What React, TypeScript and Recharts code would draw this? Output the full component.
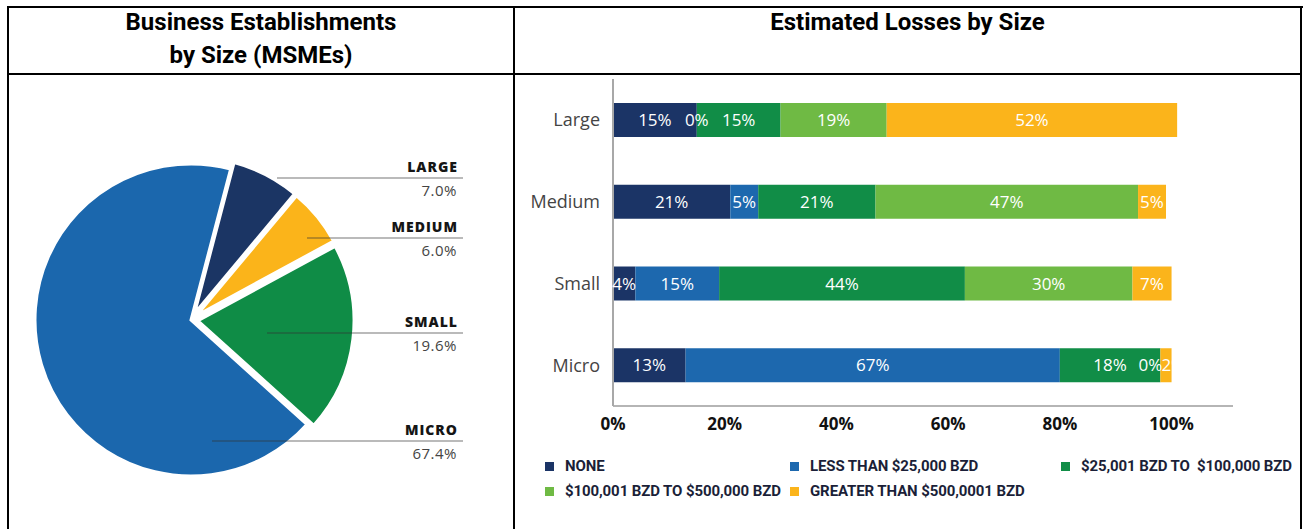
import React from 'react';
import { PieChart, Pie, Cell, BarChart, Bar, XAxis, YAxis, LabelList, Legend } from 'recharts';

// ---------- Data: pie (Business Establishments by Size) ----------
const pieNames = ['LARGE', 'MEDIUM', 'SMALL', 'MICRO'];
const pieValues = [7.0, 6.0, 19.6, 67.4];
const pieColors = ['#1b3564', '#fbb41a', '#0f8c46', '#1b67ad'];

// ---------- Data: stacked bars (Estimated Losses by Size) ----------
const sizeCategories = ['Large', 'Medium', 'Small', 'Micro'];
const lossNone = [15, 21, 4, 13];
const lossUnder25k = [0, 5, 15, 67];
const loss25kTo100k = [15, 21, 44, 18];
const loss100kTo500k = [19, 47, 30, 0];
const lossOver500k = [52, 5, 7, 2];
const xTicks = [0, 20, 40, 60, 80, 100];
const seriesKeys = ['none', 'under25k', 'from25kTo100k', 'from100kTo500k', 'over500k'];
const seriesValues = [lossNone, lossUnder25k, loss25kTo100k, loss100kTo500k, lossOver500k];
const seriesNames = [
  'NONE',
  'LESS THAN $25,000 BZD',
  '$25,001 BZD TO  $100,000 BZD',
  '$100,001 BZD TO $500,000 BZD',
  'GREATER THAN $500,0001 BZD',
];
const seriesColors = ['#1b3466', '#1d68ae', '#118d47', '#6fba44', '#fbb41b'];

const pieData = pieNames.map((name, i) => ({ name, value: pieValues[i] }));
const barData = sizeCategories.map((size, i) => {
  const row: any = { size };
  seriesKeys.forEach((k, s) => {
    row[k] = seriesValues[s][i];
  });
  return row;
});

// ---------- Layout constants (not data) ----------
const pieLabelLayout = [
  { lineY: -142, startX: 86 },
  { lineY: -82, startX: 116 },
  { lineY: 13, startX: 76 },
  { lineY: 121, startX: 21 },
];
const explode = ['translate(3.5,-6.5)', 'translate(5.5,-4.5)', 'translate(7,0.8)', undefined];
const legendPos = [
  { x: 29, y: 26 },
  { x: 274, y: 26 },
  { x: 545, y: 26 },
  { x: 29, y: 51 },
  { x: 274, y: 51 },
];
const LABEL_FONT = 17;
const CHAR_W = 9.6; // approx glyph width at LABEL_FONT
const NARROW_VALUE = 3; // a following segment this small cannot hold a centred label

const renderPieLabel = (props: any) => {
  const { cx, cy, index } = props;
  const L = pieLabelLayout[index];
  const lineY = cy + L.lineY;
  const rightX = cx + 272;
  return (
    <g key={`pl-${index}`}>
      <line
        x1={cx + L.startX}
        x2={rightX}
        y1={lineY}
        y2={lineY}
        stroke="#333"
        strokeOpacity={0.45}
        strokeWidth={1.5}
      />
      <text
        x={rightX - 5}
        y={lineY - 6}
        textAnchor="end"
        fontFamily="'Open Sans', sans-serif"
        fontWeight={800}
        fontSize={14}
        letterSpacing={1}
        fill="#151515"
      >
        {pieNames[index]}
      </text>
      <text
        x={rightX - 6}
        y={lineY + 18}
        textAnchor="end"
        fontFamily="'Open Sans', sans-serif"
        fontSize={15}
        letterSpacing={0.5}
        fill="#444"
      >
        {pieValues[index].toFixed(1)}%
      </text>
    </g>
  );
};

const makeBarLabel = (s: number) => (props: any) => {
  const vb = props.viewBox || props;
  const x = Number(vb.x);
  const y = Number(vb.y);
  const width = Number(vb.width) || 0;
  const height = Number(vb.height) || 0;
  const index = props.index ?? 0;
  const value = props.value;
  const text = `${value}%`;
  const textW = text.length * CHAR_W;
  const midY = y + height / 2;
  const common = {
    fill: '#fff',
    fontSize: LABEL_FONT,
    fontFamily: "'Open Sans', sans-serif",
    dy: '0.355em',
  };
  if (Number(value) === 0) {
    const nextVal = s + 1 < seriesValues.length ? seriesValues[s + 1][index] : 0;
    const nextNarrow = nextVal > 0 && nextVal < NARROW_VALUE;
    return (
      <text key={`bl-${s}-${index}`} x={nextNarrow ? x + 2 : x} y={midY} textAnchor={nextNarrow ? 'end' : 'middle'} {...common}>
        {text}
      </text>
    );
  }
  if (width < textW) {
    const id = `bar-clip-${s}-${index}`;
    return (
      <g key={`bl-${s}-${index}`}>
        <defs>
          <clipPath id={id}>
            <rect x={x} y={y} width={width} height={height} />
          </clipPath>
        </defs>
        <text x={x + 1} y={midY} textAnchor="start" clipPath={`url(#${id})`} {...common}>
          {text}
        </text>
      </g>
    );
  }
  return (
    <text key={`bl-${s}-${index}`} x={x + width / 2} y={midY} textAnchor="middle" {...common}>
      {text}
    </text>
  );
};

const renderLegend = () => (
  <div style={{ position: 'relative', height: 60 }}>
    {seriesNames.map((name, i) => (
      <div
        key={name}
        style={{
          position: 'absolute',
          left: legendPos[i].x,
          top: legendPos[i].y - 10,
          height: 20,
          display: 'flex',
          alignItems: 'center',
          whiteSpace: 'pre',
          fontFamily: 'Roboto, sans-serif',
          fontWeight: 700,
          fontSize: 15,
          color: '#1b1f38',
          letterSpacing: -0.1,
        }}
      >
        <span
          style={{
            display: 'inline-block',
            width: 9,
            height: 9,
            background: seriesColors[i],
            marginRight: 11,
          }}
        />
        {name}
      </div>
    ))}
  </div>
);

const pct = (v: any) => `${v}%`;

export default function App() {
  const border = (left: number, top: number, width: number, height: number) => (
    <div style={{ position: 'absolute', left, top, width, height, background: '#000' }} />
  );
  const titleStyle: React.CSSProperties = {
    position: 'absolute',
    top: 6,
    textAlign: 'center',
    fontFamily: 'Roboto, sans-serif',
    fontWeight: 700,
    fontSize: 24,
    lineHeight: '33px',
    color: '#000',
  };
  return (
    <div
      style={{
        position: 'absolute',
        left: 0,
        top: 0,
        width: 1304,
        height: 529,
        background: '#fff',
        overflow: 'hidden',
      }}
    >
      {/* Titles */}
      <div style={{ ...titleStyle, left: 9, width: 504 }}>
        Business Establishments
        <br />
        by Size (MSMEs)
      </div>
      <div style={{ ...titleStyle, left: 515, width: 785 }}>Estimated Losses by Size</div>

      {/* Pie chart */}
      <div style={{ position: 'absolute', left: 10, top: 76 }}>
        <PieChart width={500} height={450} margin={{ top: 0, right: 0, bottom: 0, left: 0 }}>
          <Pie
            data={pieData}
            dataKey="value"
            nameKey="name"
            cx={181}
            cy={244}
            outerRadius={156}
            startAngle={75.3}
            endAngle={-284.7}
            stroke="#fff"
            strokeWidth={3}
            label={renderPieLabel}
            labelLine={false}
            isAnimationActive={false}
          >
            {pieData.map((d, i) => (
              <Cell key={d.name} fill={pieColors[i]} {...(explode[i] ? { transform: explode[i] } : {})} />
            ))}
          </Pie>
        </PieChart>
      </div>

      {/* Stacked bar chart */}
      <div style={{ position: 'absolute', left: 516, top: 76 }}>
        <BarChart
          width={784}
          height={424}
          layout="vertical"
          data={barData}
          margin={{ top: 3, right: 67, left: 0, bottom: 0 }}
          barSize={34}
        >
          <XAxis
            type="number"
            domain={[0, 111]}
            ticks={xTicks}
            allowDataOverflow
            tickFormatter={pct}
            axisLine={{ stroke: '#9c9c9c', strokeWidth: 1.5 }}
            tickLine={false}
            tickMargin={6}
            height={34}
            tick={{ fontSize: 17, fontWeight: 700, fill: '#111', fontFamily: "'Open Sans', sans-serif" }}
          />
          <YAxis
            type="category"
            dataKey="size"
            width={97}
            axisLine={{ stroke: '#a8a8a8', strokeWidth: 2 }}
            tickLine={false}
            tickMargin={7}
            tick={{ fontSize: 18, fill: '#444', fontFamily: "'Open Sans', sans-serif" }}
          />
          <Legend verticalAlign="bottom" align="left" content={renderLegend} />
          {seriesKeys.map((k, i) => (
            <Bar
              key={k}
              dataKey={k}
              name={seriesNames[i]}
              stackId="a"
              fill={seriesColors[i]}
              minPointSize={(_v: number, idx: number) => (seriesValues[i][idx] === 0 ? 0.01 : 0)}
              isAnimationActive={false}
            >
              <LabelList dataKey={k} position="center" content={makeBarLabel(i)} />
            </Bar>
          ))}
        </BarChart>
      </div>

      {/* Table borders */}
      {border(7, 6, 1296, 2)}
      {border(7, 6, 2, 523)}
      {border(513, 6, 2, 523)}
      {border(1300, 6, 2, 523)}
      {border(7, 73, 1295, 2)}
    </div>
  );
}
